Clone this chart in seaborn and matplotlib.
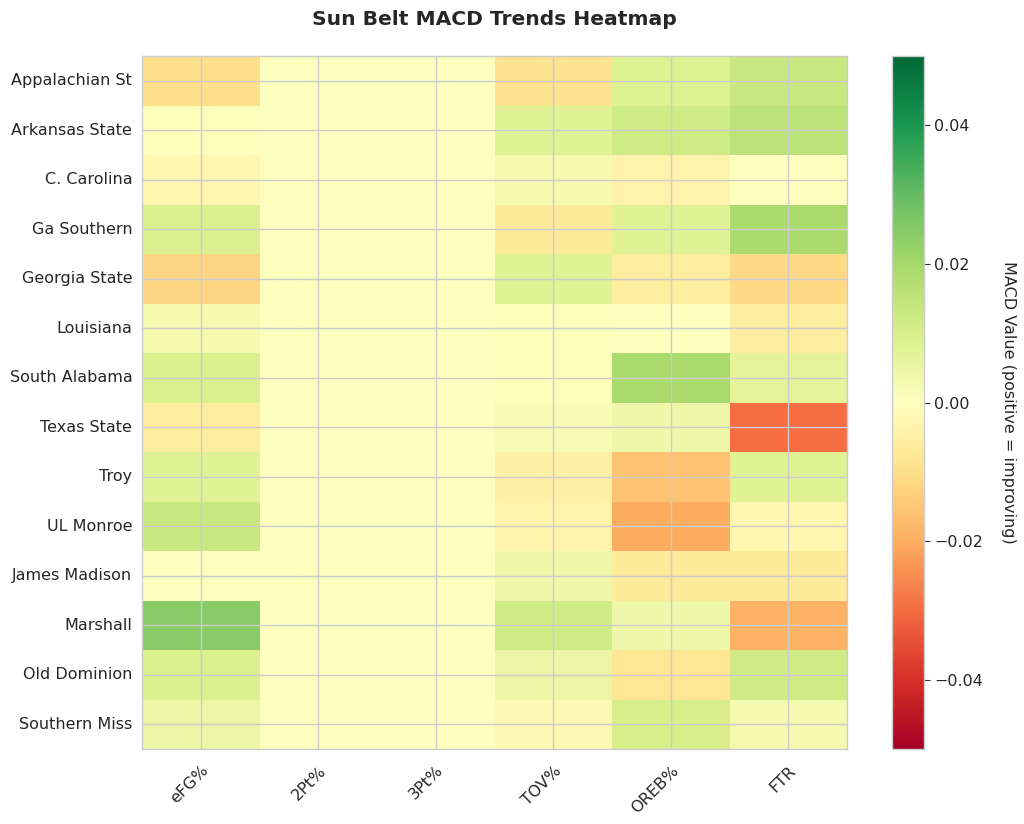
import matplotlib
matplotlib.use('Agg')
import matplotlib.pyplot as plt
import seaborn as sns
import pandas as pd

teams = ['Appalachian St', 'Arkansas State', 'C. Carolina', 'Ga Southern', 'Georgia State',
         'Louisiana', 'South Alabama', 'Texas State', 'Troy', 'UL Monroe',
         'James Madison', 'Marshall', 'Old Dominion', 'Southern Miss']
metrics = ['eFG%', '2Pt%', '3Pt%', 'TOV%', 'OREB%', 'FTR']

efg = [-0.010, 0.0005, -0.003, 0.009, -0.012, 0.003, 0.009, -0.006, 0.008, 0.013, 0.0, 0.0245, 0.009, 0.005]
two_pt = [0.0] * 14
three_pt = [0.0] * 14
tov = [-0.009, 0.008, 0.003, -0.007, 0.008, 0.0005, 0.0005, 0.002, -0.005, -0.004, 0.004, 0.012, 0.005, -0.002]
oreb = [0.0085, 0.012, -0.004, 0.008, -0.006, 0.0, 0.019, 0.004, -0.016, -0.020, -0.007, 0.004, -0.008, 0.0105]
ftr = [0.013, 0.016, 0.0, 0.019, -0.011, -0.006, 0.007, -0.030, 0.008, -0.003, -0.007, -0.019, 0.012, 0.003]

df = pd.DataFrame({'eFG%': efg, '2Pt%': two_pt, '3Pt%': three_pt,
                   'TOV%': tov, 'OREB%': oreb, 'FTR': ftr}, index=teams)[metrics]

sns.set_style('whitegrid')
plt.rcParams['font.family'] = ['DejaVu Sans']

fig = plt.figure(figsize=(10.24, 8.24), dpi=100)
ax = fig.add_axes([0.1387, 0.091, 0.6885, 0.841])
cax = fig.add_axes([0.871, 0.091, 0.031, 0.841])

sns.heatmap(df, ax=ax, cbar_ax=cax, cmap='RdYlGn', vmin=-0.05, vmax=0.05,
            cbar_kws={'label': 'MACD Value (positive = improving)'})

# bring back the grid through cell centres, drawn over the cells
ax.grid(True, color='#cccccc', linewidth=1)
ax.set_axisbelow(False)
for side in ['top', 'bottom', 'left', 'right']:
    ax.spines[side].set_visible(True)
    ax.spines[side].set_color('#cccccc')
    ax.spines[side].set_linewidth(1)

ax.set_xticklabels(metrics, rotation=45, ha='right', rotation_mode='anchor', fontsize=11.5)
ax.set_yticklabels(teams, rotation=0, fontsize=11.5)
ax.tick_params(axis='y', length=0, pad=7)
ax.tick_params(axis='x', length=0, pad=10)
ax.set_xlabel('')
ax.set_ylabel('')
ax.set_title('Sun Belt MACD Trends Heatmap', fontsize=14.6, fontweight='bold', pad=22)

cb = ax.collections[0].colorbar
cb.outline.set_linewidth(1)
cb.outline.set_edgecolor('#cccccc')
cb.ax.tick_params(labelsize=11.5, length=4, color='#333333')
cb.set_ticks([-0.04, -0.02, 0.0, 0.02, 0.04])
cb.set_label('MACD Value (positive = improving)', rotation=270, labelpad=24, fontsize=11.5)

fig.savefig('out.png', dpi=100)
